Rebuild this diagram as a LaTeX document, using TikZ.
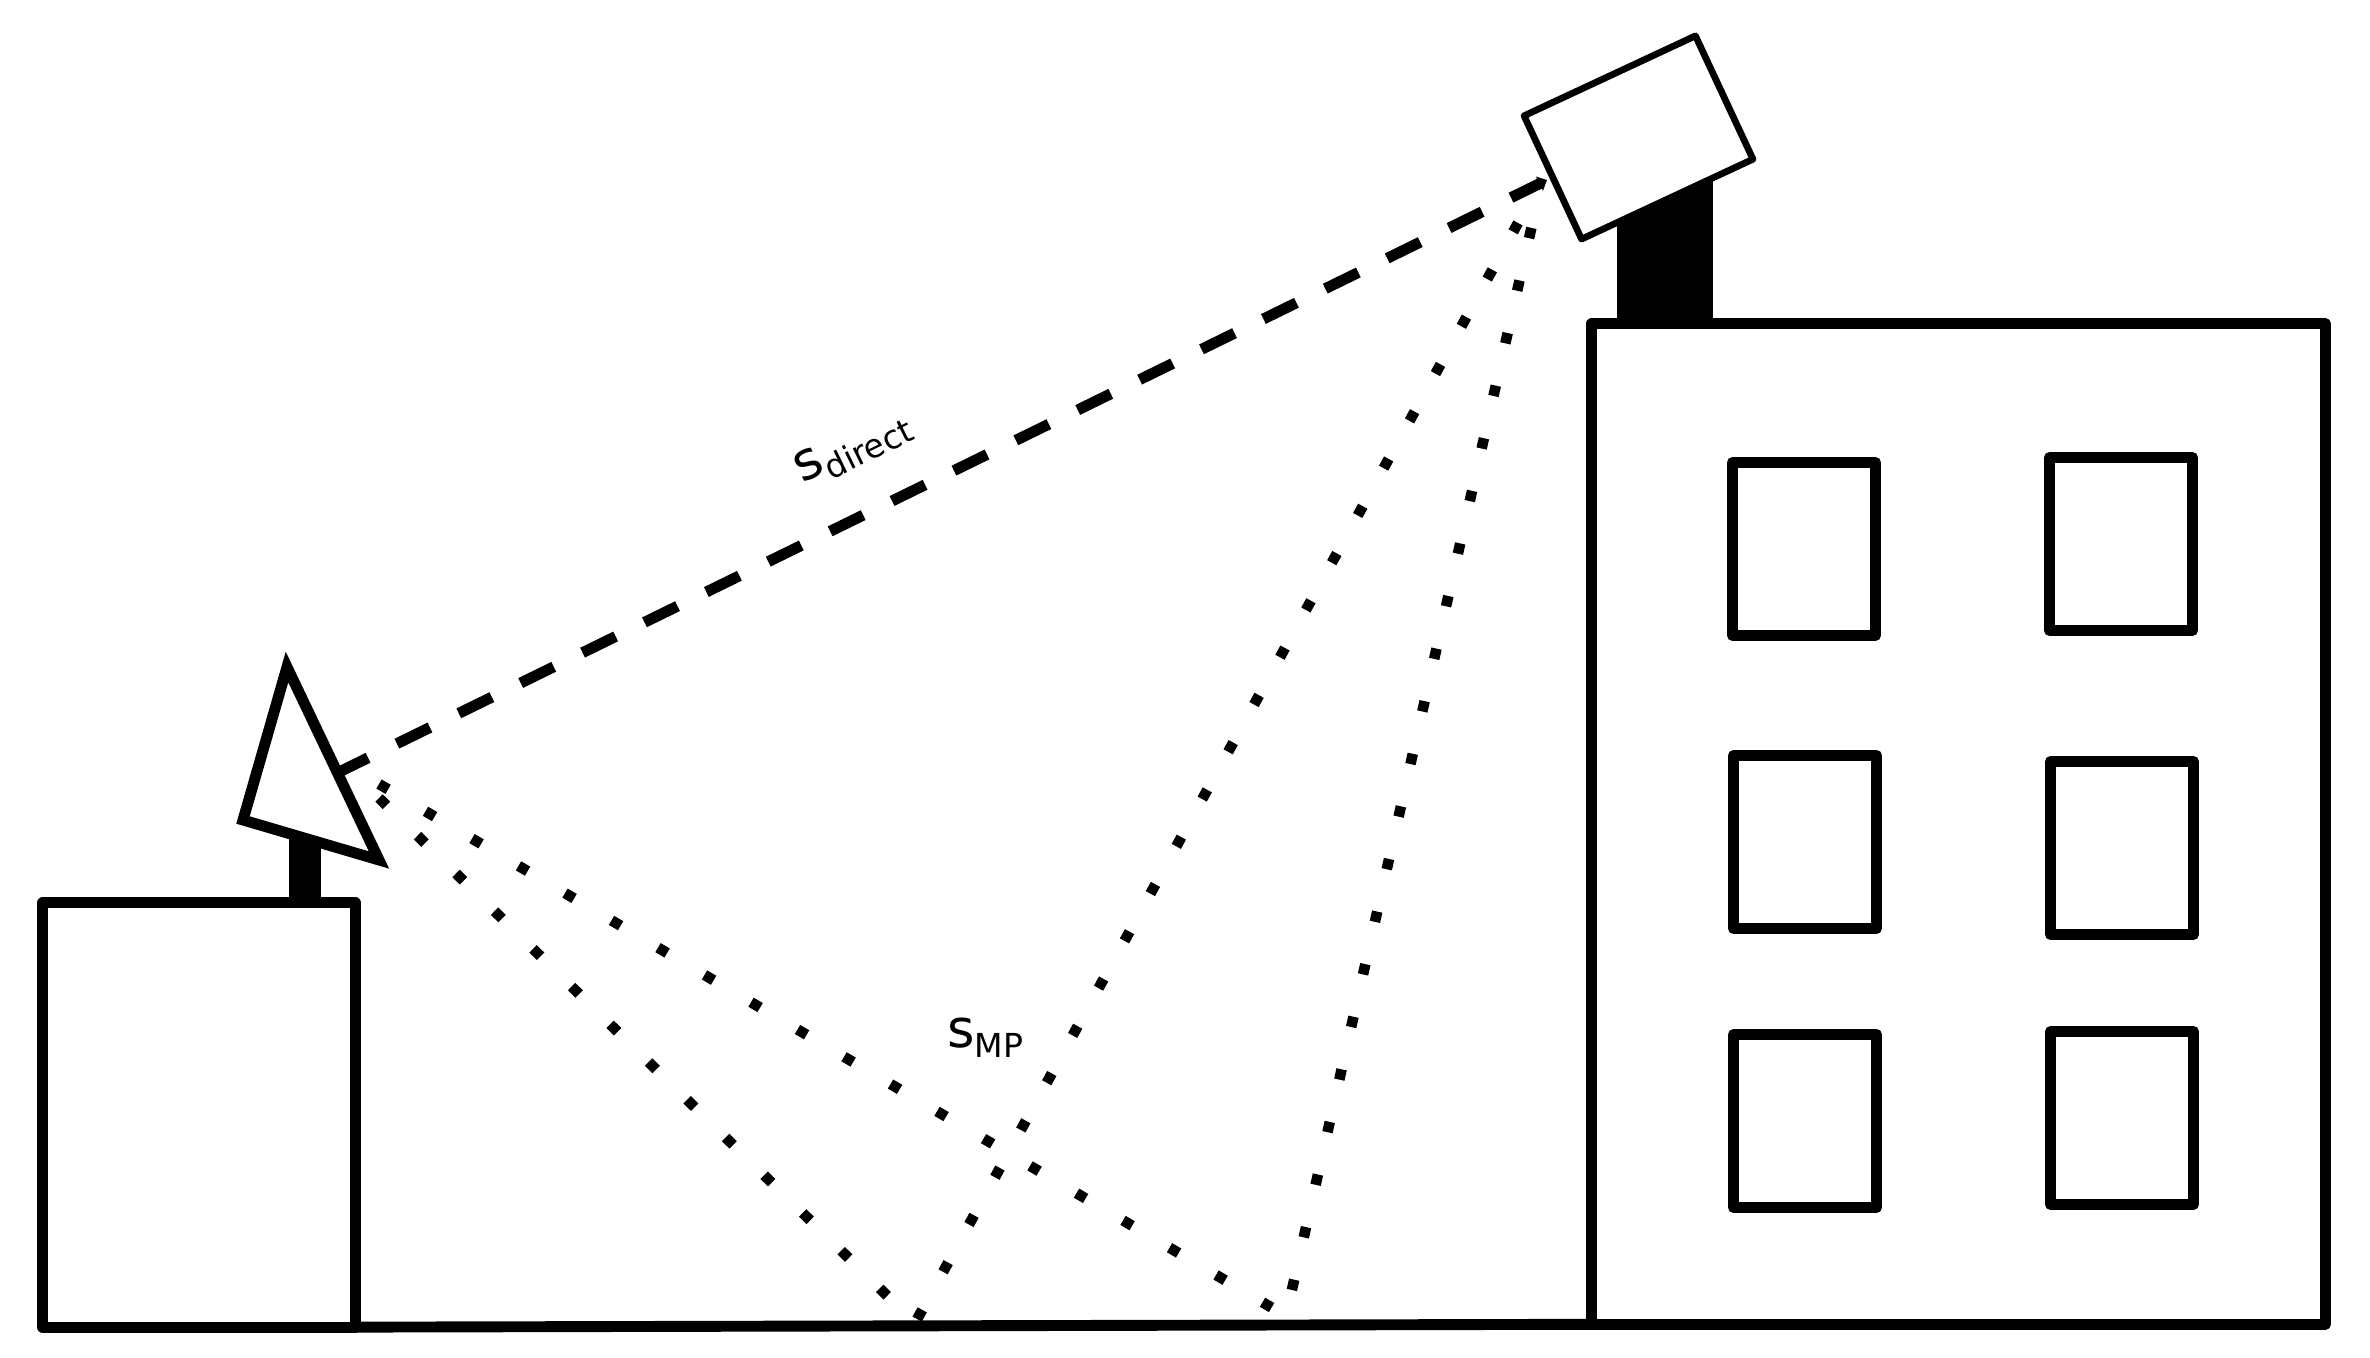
\documentclass[tikz,border=0pt]{standalone}
\usepackage{fontspec}
\setmainfont{DejaVu Sans}
\usetikzlibrary{arrows.meta}
\newcommand{\sigtext}[1]{{\fontsize{15}{15}\selectfont s}\raisebox{-2.9pt}{\fontsize{9.4}{9.4}\selectfont #1}}
\tikzset{
    block/.style={
        draw=black,
        fill=white,
        rectangle,
        line width=3.1pt,
        line join=round,
        inner sep=0pt,
        outer sep=0pt
    },
    windowbox/.style={
        block,
        minimum width=1.43cm,
        minimum height=1.73cm
    },
    mast/.style={
        fill=black,
        rectangle,
        inner sep=0pt,
        outer sep=0pt
    },
    direct/.style={
        line width=3.1pt,
        dash pattern=on 10.47pt off 9.13pt,
        -{Triangle[length=2.4pt,width=4.4pt]}
    },
    multipath/.style={
        line width=3pt,
        dash pattern=on 3pt off 12.33pt
    },
    siglabel/.style={
        inner sep=0pt,
        outer sep=0pt,
        anchor=base west
    }
}

\begin{document}
\begin{tikzpicture}[x=0.01cm,y=-0.01cm]
    \useasboundingbox (0,0) rectangle (2370,1358);

    % masts
    \node[mast, minimum width=0.32cm, minimum height=0.8cm] (rxmast) at (305,860) {};
    \node[mast, minimum width=0.96cm, minimum height=1.6cm] (txmast) at (1665,242) {};

    % buildings
    \node[block, minimum width=3.12cm, minimum height=4.24cm] (house) at (199,1115) {};
    \node[block, minimum width=7.33cm, minimum height=10cm] (tower) at (1958.5,824) {};
    \draw[line width=3.1pt] (house.south east) -- (tower.south west);

    % windows
    \node[windowbox] (win1) at (1804,549) {};
    \node[windowbox] (win2) at (2121,544) {};
    \node[windowbox] (win3) at (1805,842) {};
    \node[windowbox] (win4) at (2122,848) {};
    \node[windowbox] (win5) at (1805,1121) {};
    \node[windowbox] (win6) at (2122,1118) {};

    % signal paths
    \coordinate (rxa) at (335,774);
    \coordinate (txa) at (1547,180);
    \coordinate (rxb) at (379,784);
    \coordinate (bouncea) at (1286,1316);
    \coordinate (txb) at (1532,225);
    \coordinate (rxc) at (379,798);
    \coordinate (bounceb) at (915,1323);
    \coordinate (txc) at (1518,223);
    \draw[direct] (rxa) -- (txa);
    \draw[multipath] (rxb) -- (bouncea) -- (txb);
    \draw[multipath] (rxc) -- (bounceb) -- (txc);

    % receiver and transmitter
    \coordinate (apex) at (287,667);
    \coordinate (heel) at (243,820);
    \coordinate (toe) at (379,860);
    \draw[draw=black, fill=white, line width=3.1pt] (apex) -- (heel) -- (toe) -- cycle;
    \node[block, line width=1.9pt, rotate=25, minimum width=1.89cm, minimum height=1.36cm] (camera) at (1638.5,137.5) {};

    % labels
    \node[siglabel, rotate=26] (sdirect) at (802,483) {\sigtext{direct}};
    \node[siglabel] (smp) at (947,1047) {\sigtext{MP}};
\end{tikzpicture}
\end{document}
